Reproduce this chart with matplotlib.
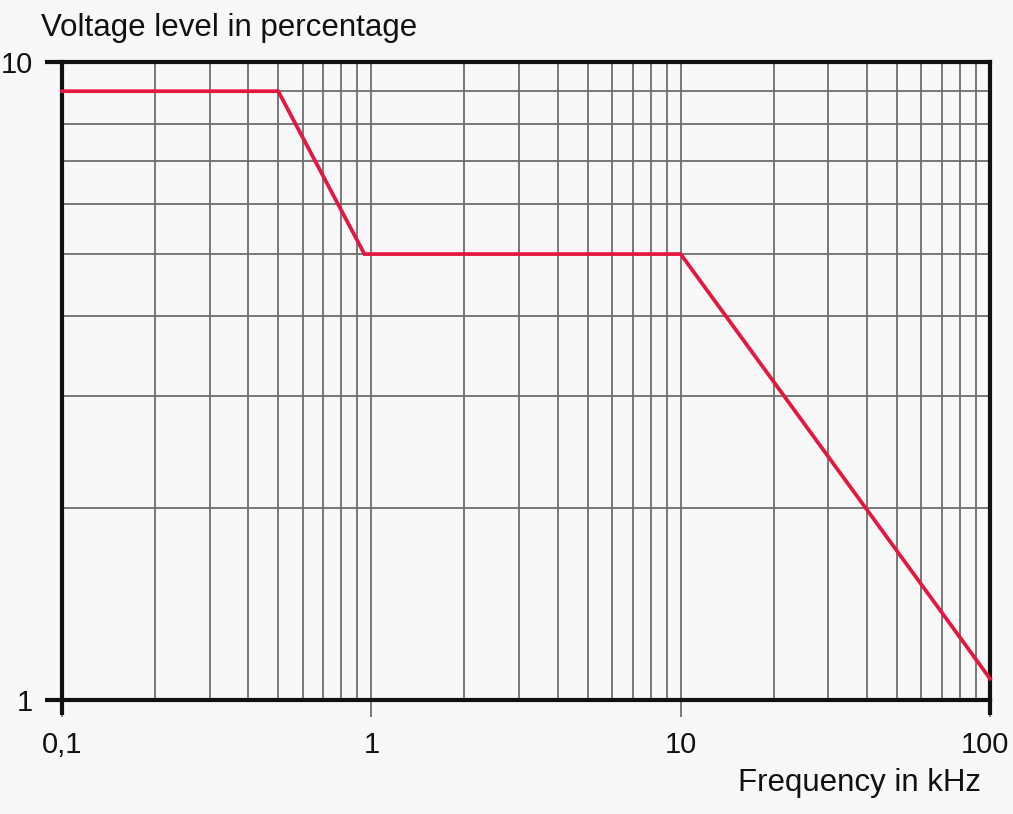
import matplotlib
matplotlib.use("Agg")
import matplotlib.pyplot as plt
import matplotlib.transforms as mtransforms
from matplotlib.ticker import FixedLocator, FixedFormatter, NullFormatter

plt.rcParams['font.family'] = ['Liberation Sans', 'DejaVu Sans']

freq_khz = [0.1, 0.5, 0.95, 10, 100]
voltage_pct = [9.0, 9.0, 5.0, 5.0, 1.08]

x_ticks = [0.1, 1, 10, 100]
x_labels = ["0,1", "1", "10", "100"]
y_ticks = [1, 10]
y_labels = ["1", "10"]

BG = '#f8f8f8'
GRID = '#6e6e6e'
RED = '#e5173f'

W, H = 1013, 814
fig = plt.figure(figsize=(W / 100, H / 100), dpi=100, facecolor=BG)
L, R, B, T = 62 / W, 990 / W, 1 - 700 / H, 1 - 62 / H
ax = fig.add_axes([L, B, R - L, T - B], facecolor=BG)

ax.set_xscale('log')
ax.set_yscale('log')
ax.set_xlim(0.1, 100)
ax.set_ylim(1, 10)

ax.xaxis.set_major_locator(FixedLocator(x_ticks))
ax.xaxis.set_major_formatter(FixedFormatter(x_labels))
ax.yaxis.set_major_locator(FixedLocator(y_ticks))
ax.yaxis.set_major_formatter(FixedFormatter(y_labels))
ax.xaxis.set_minor_formatter(NullFormatter())
ax.yaxis.set_minor_formatter(NullFormatter())

ax.grid(True, which='both', color=GRID, linewidth=1.3)
ax.set_axisbelow(True)

ax.tick_params(axis='both', which='major', length=12, width=1.3, color=GRID,
               labelsize=21, pad=10, labelcolor='#111111')
ax.tick_params(axis='y', which='major', pad=9)
ax.tick_params(axis='both', which='minor', length=0)

for s in ax.spines.values():
    s.set_color('#111111')
    s.set_linewidth(3)
    s.set_zorder(3)

# spine extensions (outside the axes)
ext_x = 17 / (990 - 62)
ext_y = 15 / (700 - 62)
ax.plot([-ext_x, 0], [1, 1], transform=ax.transAxes, color='#111111', lw=3, clip_on=False, solid_capstyle='butt')
ax.plot([-ext_x, 0], [0, 0], transform=ax.transAxes, color='#111111', lw=3, clip_on=False, solid_capstyle='butt')
ax.plot([0, 0], [-ext_y, 0], transform=ax.transAxes, color='#111111', lw=3, clip_on=False, solid_capstyle='butt')
ax.plot([1, 1], [-ext_y, 0], transform=ax.transAxes, color='#111111', lw=3, clip_on=False, solid_capstyle='butt')

ax.plot(freq_khz, voltage_pct, color=RED, linewidth=2.7, zorder=4, clip_on=False,
        solid_joinstyle='miter')

fig.text(41 / W, 1 - 28 / H, "Voltage level in percentage", fontsize=22.5,
         va='center', ha='left', color='#111111')
fig.text(981 / W, 1 - 783 / H, "Frequency in kHz", fontsize=22.5,
         va='center', ha='right', color='#111111')

# keep the last x tick label inside the canvas
fig.canvas.draw()
last = ax.get_xticklabels()[-1]
last.set_transform(last.get_transform() + mtransforms.ScaledTranslation(-5 / 100, 0, fig.dpi_scale_trans))

fig.savefig("out.png", dpi=100, facecolor=BG)
